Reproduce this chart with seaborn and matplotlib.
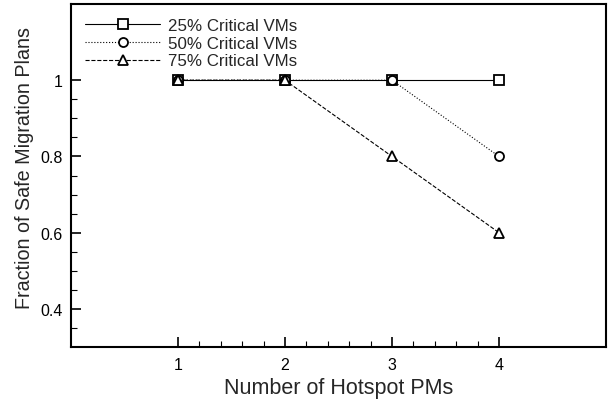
import matplotlib
matplotlib.use("Agg")
import matplotlib.pyplot as plt
import seaborn as sns
import pandas as pd
import numpy as np
from matplotlib.ticker import FixedLocator

hotspot_pms = [1, 2, 3, 4]
series_names = ["25% Critical VMs", "50% Critical VMs", "75% Critical VMs"]
frac_25 = [1.0, 1.0, 1.0, 1.0]
frac_50 = [1.0, 1.0, 1.0, 0.8]
frac_75 = [1.0, 1.0, 0.8, 0.6]

sns.set_style("ticks")
plt.rcParams['font.family'] = ['Liberation Sans', 'DejaVu Sans']

fig = plt.figure(figsize=(6.08, 4.02), dpi=100)
ax = fig.add_axes([71/608, 1 - 348/402, (606-71)/608, (348-5)/402])

styles = [("-", "s"), (":", "o"), ("--", "^")]
for name, vals, (ls, mk) in zip(series_names, [frac_25, frac_50, frac_75], styles):
    df = pd.DataFrame({"x": hotspot_pms, "y": vals})
    sns.lineplot(data=df, x="x", y="y", ax=ax, color="black", linestyle=ls,
                 linewidth=0.8, marker=mk, markersize=6.5, markerfacecolor="white",
                 markeredgecolor="black", markeredgewidth=1.3, label=name)

ax.set_xlim(0, 5)
ax.set_ylim(0.3, 1.2)
ax.xaxis.set_major_locator(FixedLocator([1, 2, 3, 4]))
ax.xaxis.set_minor_locator(FixedLocator([v for v in np.arange(1.2, 4.0, 0.2) if abs(v - round(v)) > 1e-6]))
ax.yaxis.set_major_locator(FixedLocator([0.4, 0.6, 0.8, 1.0]))
ax.yaxis.set_minor_locator(FixedLocator([0.35, 0.45, 0.5, 0.55, 0.65, 0.7, 0.75, 0.85, 0.9, 0.95]))
ax.set_xticklabels(["1", "2", "3", "4"])
ax.set_yticklabels(["0.4", "0.6", "0.8", "1"])
ax.tick_params(which="both", direction="in", top=False, right=False, labelsize=11.5, colors="black")
ax.tick_params(which="major", length=7, width=1.2)
ax.tick_params(axis="x", which="major", pad=7)
ax.tick_params(axis="y", which="major", pad=6)
ax.tick_params(which="minor", length=4, width=0.8)
for s in ax.spines.values():
    s.set_linewidth(1.5)
    s.set_color("black")

ax.set_xlabel("Number of Hotspot PMs", fontsize=15.5, labelpad=4)
ax.set_ylabel("Fraction of Safe Migration Plans", fontsize=14.2)
ax.yaxis.set_label_coords(-0.086, 0.525)
ax.yaxis.label.set_verticalalignment("center")

leg = ax.legend(loc="upper left", frameon=False, fontsize=12.2, handlelength=4.4,
                handletextpad=0.5, labelspacing=0.15, borderaxespad=0.45,
                borderpad=0.4)

fig.savefig("out.png", dpi=100)
